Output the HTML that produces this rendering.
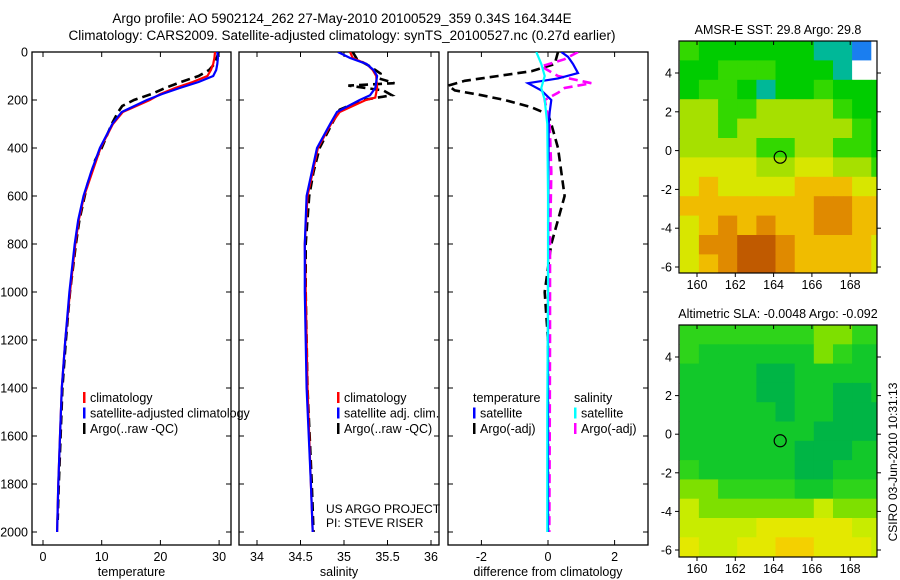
<!DOCTYPE html>
<html><head><meta charset="utf-8"><style>
body{margin:0;background:#fff;}
svg{display:block;font-family:"Liberation Sans",sans-serif;}
</style></head><body>
<svg id="fig" width="900" height="580" xmlns="http://www.w3.org/2000/svg">
<rect width="900" height="580" fill="#fff"/>
<text x="342" y="23" font-size="13.5" text-anchor="middle">Argo profile: AO 5902124_262 27-May-2010 20100529_359 0.34S 164.344E</text>
<text x="342" y="40" font-size="13.5" text-anchor="middle">Climatology: CARS2009. Satellite-adjusted climatology: synTS_20100527.nc (0.27d earlier)</text>
<g id="layer"></g>
</svg>
<script>
// ---- profile data ----
const tSatDepth=[0,25,50,75,100,125,150,175,200,250,300,400,500,600,700,800,1000,1200,1400,1600,1800,2000];
const tSat=[29.7,29.8,29.7,29.5,29.0,26.5,23.3,20.3,17.7,13.4,11.8,9.7,8.2,6.9,6.0,5.4,4.5,3.8,3.2,2.9,2.6,2.4];
const tClimDepth=[0,25,50,75,100,125,150,175,200,250,300,400,500,600,700,800,1000,1200,1400,1600,1800,2000];
const tClim=[29.3,29.2,29.0,28.6,28.0,25.5,22.5,20.0,18.2,13.6,11.9,9.8,8.4,7.0,6.1,5.5,4.6,3.8,3.2,2.9,2.6,2.4];
const tArgoDepth=[0,25,50,75,100,125,150,175,200,225,250,300,400,450,500,550,600,700,800,1000,1200,1400,1600,1800,1950];
const tArgo=[29.9,29.6,29.2,28.3,26.5,23.5,20.8,18.5,15.5,13.5,12.8,11.7,10.0,8.9,8.3,7.6,7.1,6.2,5.6,4.6,3.9,3.3,3.0,2.7,2.5];
const sSatDepth=[0,25,50,75,100,150,180,200,250,300,400,500,600,800,1000,1400,1800,2000];
const sSat=[34.93,35.07,35.26,35.34,35.38,35.36,35.3,35.18,34.92,34.84,34.69,34.63,34.57,34.55,34.55,34.57,34.62,34.64];
const sClimDepth=[0,25,50,75,100,150,190,200,250,300,400,500,600,800,1000,1400,1800,2000];
const sClim=[35.07,35.1,35.26,35.33,35.37,35.38,35.36,35.25,34.95,34.85,34.7,34.64,34.58,34.55,34.56,34.58,34.62,34.64];
const sArgoDepth=[0,30,60,90,110,130,140,160,180,200,240,300,400,500,600,800,1000,1400,1800,2000];
const sArgo=[35.1,35.15,35.3,35.42,35.4,35.58,35.05,35.45,35.55,35.22,34.95,34.86,34.72,34.65,34.6,34.56,34.56,34.58,34.63,34.65];
const dTSatDepth=[0,20,50,88,110,130,160,200,250,300,600,1000,1500,2000];
const dTSat=[0.4,0.6,0.75,0.9,0.3,-0.6,-0.2,0.1,0.05,0.02,0.01,0,0,0];
const dSSatDepth=[0,50,100,150,200,300,600,1000,1500,2000];
const dSSat=[-0.35,-0.2,-0.1,-0.2,-0.1,-0.02,0,0,-0.02,-0.02];
const dTArgoDepth=[0,50,80,100,120,140,160,180,200,230,260,300,400,500,600,700,800,1000,1200,1600,2000];
const dTArgo=[0.3,0.2,-0.5,-1.5,-2.5,-3.0,-2.8,-2.0,-1.3,-0.5,0,0.1,0.3,0.4,0.5,0.3,0.1,-0.1,0,0,0];
const dSArgoDepth=[0,30,60,100,130,150,170,200,300,500,800,1200,1600,2000];
const dSArgo=[0.9,0.5,-0.2,0.3,1.3,0.5,0.3,-0.1,0.05,0.1,0.06,0.06,0.05,0.04];
const depthTicks=[0,200,400,600,800,1000,1200,1400,1600,1800,2000];
const tempTicks=[0,10,20,30];
const salTicks=[34,34.5,35,35.5,36];
const diffTicks=[-2,0,2];
// ---- map data (colour class per 1-degree cell, rows from north) ----
const sstRows=[
[3,2,2,2,2,2,2,1,1,0,9],
[2,2,3,3,3,2,2,2,1,9,9],
[2,3,3,2,1,2,2,3,2,2,2],
[4,4,3,3,4,4,4,4,3,2,2],
[4,4,3,4,4,4,4,4,4,3,2],
[4,4,4,4,3,3,4,4,3,3,2],
[5,5,5,5,4,4,5,5,4,4,3],
[5,6,5,5,5,5,6,6,6,5,5],
[6,6,6,6,6,6,6,7,7,6,6],
[5,6,7,6,7,6,6,7,7,6,6],
[5,7,7,8,8,7,6,6,6,6,5],
[5,6,7,8,8,7,6,6,6,6,5]];
const slaRows=[
[2,2,2,2,2,2,2,3,3,2,2],
[2,1,1,1,1,1,1,3,2,1,1],
[1,1,1,1,0,0,1,1,1,1,1],
[1,1,1,1,0,0,1,1,0,0,1],
[1,1,1,1,1,0,1,1,0,0,0],
[1,1,1,1,1,1,1,0,0,0,0],
[1,1,1,1,1,1,0,0,0,1,1],
[2,1,1,1,1,1,0,0,1,1,1],
[3,3,2,2,2,2,1,1,2,2,2],
[4,3,3,3,3,3,3,4,3,3,3],
[4,4,4,4,5,5,5,5,5,4,4],
[5,4,4,5,5,6,6,5,5,5,4]];
const sstPalette=["#1a7ef0","#00b898","#00cc00","#33d800","#a6e000","#d8e600","#f0bc00","#e08a00","#c05a00","#ffffff"];
const slaPalette=["#00b545","#12c82a","#2ed41a","#7ee000","#c8ec00","#e4e800","#f4d000"];
const lonTicks=[160,162,164,166,168];
const latTicks=[4,2,0,-2,-4,-6];

const NS="http://www.w3.org/2000/svg";
const layer=document.getElementById('layer');
function mk(tag,attrs,parent){const e=document.createElementNS(NS,tag);for(const k in attrs)e.setAttribute(k,attrs[k]);(parent||layer).appendChild(e);return e;}
function txt(x,y,s,size,anchor,parent){const e=mk('text',{x:x,y:y,'font-size':size,'text-anchor':anchor||'middle'},parent);e.textContent=s;return e;}

const Y0=52,YB=545;
const yD=d=>Y0+d*0.24;
const xT=v=>43+v*5.87;
const xS=v=>257+(v-34)*87;
const xDf=v=>548+v*33.3;

function panel(name,x0,x1,ticks,xf,labels,xlabel,leftLabels){
  const g=mk('g',{});
  
  
  mk('rect',{x:x0,y:Y0,width:x1-x0,height:YB-Y0,fill:'none',stroke:'#000','stroke-width':1.3},g);
  depthTicks.forEach(d=>{const y=yD(d);
    mk('line',{x1:x0,x2:x0+5,y1:y,y2:y,stroke:'#000'},g);
    mk('line',{x1:x1-5,x2:x1,y1:y,y2:y,stroke:'#000'},g);
    if(leftLabels){const t=txt(x0-4,y+4.5,String(d),12.5,'end',g);}
  });
  ticks.forEach((v,i)=>{const x=xf(v);
    mk('line',{x1:x,x2:x,y1:Y0,y2:Y0+5,stroke:'#000'},g);
    mk('line',{x1:x,x2:x,y1:YB-5,y2:YB,stroke:'#000'},g);
    const t=txt(x,YB+16,labels[i],12.5,'middle',g);
    
    
  });
  const xl=txt((x0+x1)/2,YB+31,xlabel,12.5,'middle',g);
  
  
  return g;
}
function series(name,depths,vals,xf,color,dash,clipId){
  const pts=depths.map((d,i)=>xf(vals[i]).toFixed(1)+','+yD(d).toFixed(1)).join(' ');
  const p=mk('polyline',{points:pts,fill:'none',stroke:color,'stroke-width':dash?2.6:2.2,'clip-path':'url(#'+clipId+')'});
  if(dash)p.setAttribute('stroke-dasharray','9,5');
  
  
}
const defs=mk('defs',{});
[['c1',32,231],['c2',239,439],['c3',448,648]].forEach(c=>{const cp=mk('clipPath',{id:c[0]},defs);mk('rect',{x:c[1],y:Y0,width:c[2]-c[1],height:YB-Y0},cp);});

panel('temperature-panel',32,231,tempTicks,xT,tempTicks.map(String),'temperature',true);
panel('salinity-panel',239,439,salTicks,xS,salTicks.map(String),'salinity',false);
panel('difference-panel',448,648,diffTicks,xDf,diffTicks.map(String),'difference from climatology',false);

series('temp-argo',tArgoDepth,tArgo,xT,'#000',true,'c1');
series('temp-climatology',tClimDepth,tClim,xT,'#f00',false,'c1');
series('temp-satellite',tSatDepth,tSat,xT,'#00f',false,'c1');
series('sal-argo',sArgoDepth,sArgo,xS,'#000',true,'c2');
series('sal-climatology',sClimDepth,sClim,xS,'#f00',false,'c2');
series('sal-satellite',sSatDepth,sSat,xS,'#00f',false,'c2');
series('diff-temp-argo',dTArgoDepth,dTArgo,xDf,'#000',true,'c3');
series('diff-sal-argo',dSArgoDepth,dSArgo,xDf,'#f0f',true,'c3');
series('diff-temp-satellite',dTSatDepth,dTSat,xDf,'#00f',false,'c3');
series('diff-sal-satellite',dSSatDepth,dSSat,xDf,'#0ff',false,'c3');

function legend(name,x,y,items){
  const g=mk('g',{});
  
  
  items.forEach((it,i)=>{const yy=y+i*15.5;
    if(it[1])mk('rect',{x:x,y:yy-10,width:2.5,height:11,fill:it[1]},g);
    txt(x+(it[1]?7:0),yy,it[0],12.5,'start',g);
  });
}
legend('temp-legend',83,402,[['climatology','#f00'],['satellite-adjusted climatology','#00f'],['Argo(..raw -QC)','#000']]);
legend('sal-legend',337,402,[['climatology','#f00'],['satellite adj. clim.','#00f'],['Argo(..raw -QC)','#000']]);
legend('diff-temp-legend',473,402,[['temperature',null],['satellite','#00f'],['Argo(-adj)','#000']]);
legend('diff-sal-legend',574,402,[['salinity',null],['satellite','#0ff'],['Argo(-adj)','#f0f']]);
const pr=txt(326,513,'US ARGO PROJECT',12,'start');
const pi=txt(326,527,'PI: STEVE RISER',12,'start');

// ---- maps ----
const MX0=679,MX1=877;
const xLon=l=>697+(l-160)*19.15;
function map(name,title,rows,pal,top,bottom,lat4y,lat6y){
  const g=mk('g',{});
  
  
  const pl=(lat4y-lat6y)/10; // px per deg (negative)
  const yLat=l=>lat4y+(l-4)*(-pl)*-1;
  const yL=l=>lat4y+(4-l)*((lat6y-lat4y)/10);
  const topLat=4-(top-lat4y)/((lat6y-lat4y)/10);
  const cp=mk('clipPath',{id:name+'-clip'},defs);
  mk('rect',{x:MX0,y:top,width:MX1-MX0,height:bottom-top},cp);
  const cg=mk('g',{'clip-path':'url(#'+name+'-clip)'},g);
  rows.forEach((row,r)=>row.forEach((c,k)=>{
    const lon0=159.1+k, lat0=topLat-r;
    const x=xLon(lon0), y=yL(lat0);
    const cell=mk('rect',{x:x.toFixed(1),y:y.toFixed(1),width:19.6,height:19.9,fill:pal[c]},cg);
    
    
  }));
  mk('rect',{x:MX0,y:top,width:MX1-MX0,height:bottom-top,fill:'none',stroke:'#000','stroke-width':1.2},g);
  lonTicks.forEach(l=>{const x=xLon(l);
    mk('line',{x1:x,x2:x,y1:top,y2:top+4,stroke:'#000'},g);
    mk('line',{x1:x,x2:x,y1:bottom,y2:bottom+4,stroke:'#000'},g);
    txt(x,bottom+16,String(l),12.5,'middle',g);});
  latTicks.forEach(l=>{const y=yL(l);
    mk('line',{x1:MX0-4,x2:MX0,y1:y,y2:y,stroke:'#000'},g);
    mk('line',{x1:MX1,x2:MX1+4,y1:y,y2:y,stroke:'#000'},g);
    txt(MX0-7,y+4.5,String(l),12.5,'end',g);});
  mk('circle',{cx:xLon(164.344),cy:yL(-0.34),r:6,fill:'none',stroke:'#000','stroke-width':1.2},g);
  txt((MX0+MX1)/2,top-7,title,12.5,'middle',g);
}
map('sst-map','AMSR-E SST: 29.8 Argo: 29.8',sstRows,sstPalette,41,273,73,267);
map('sla-map','Altimetric SLA: -0.0048 Argo: -0.092',slaRows,slaPalette,325,557,357,550);
const cs=mk('text',{x:0,y:0,'font-size':12,'text-anchor':'middle',transform:'translate(897,462) rotate(-90)'});
cs.textContent='CSIRO 03-Jun-2010 10:31:13';


</script>
</body></html>
